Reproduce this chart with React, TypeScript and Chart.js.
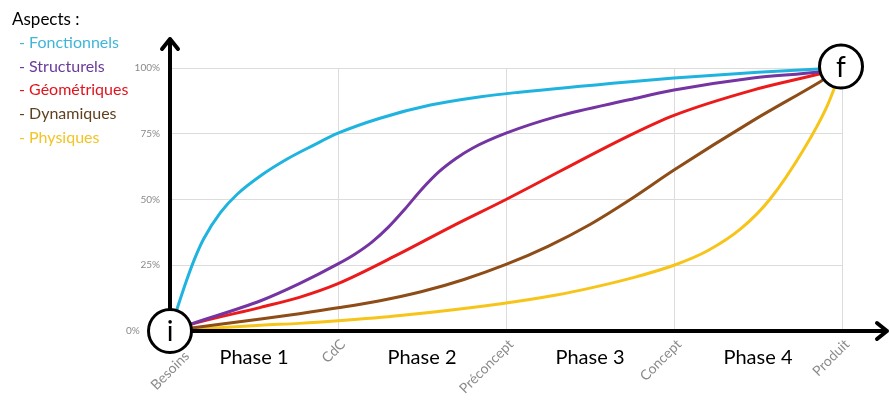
import React, { useEffect, useRef } from "react";
import { Chart, registerables } from "chart.js";

Chart.register(...registerables);

// ---- Data (x = stage index 0..4, y = percent) ----
const stages = ["Besoins", "CdC", "Préconcept", "Concept", "Produit"];
const phases = ["Phase 1", "Phase 2", "Phase 3", "Phase 4"];
const yTickLabels = ["0%", "25%", "50%", "75%", "100%"];
const legendTitle = "Aspects :";

const fonctionnels = [[0, 0], [0.05, 10], [0.1, 19.5], [0.15, 28], [0.2, 35], [0.3, 45], [0.4, 52], [0.55, 59.5], [0.7, 65.5], [0.85, 70.5], [1, 75.2], [1.25, 80.9], [1.55, 85.9], [1.85, 89.1], [2.08, 90.8], [2.74, 94.8], [3, 96.2], [3.5, 98.4], [4, 100]];
const structurels = [[0, 0], [0.14, 3], [0.54, 11.5], [0.77, 18], [1, 25.5], [1.1, 29.2], [1.2, 33.7], [1.3, 39.5], [1.4, 46.5], [1.5, 54], [1.6, 60.5], [1.7, 65.5], [1.8, 69.5], [2, 75.2], [2.3, 81.5], [2.74, 88], [3, 91.6], [3.47, 96.2], [3.87, 98.6], [4, 100]];
const geometriques = [[0, 0], [0.14, 2.8], [0.54, 9], [0.77, 12.8], [1, 18], [1.37, 29.5], [1.67, 39.5], [2, 50], [2.74, 74.5], [3, 82], [3.47, 91.6], [3.87, 97.8], [4, 100]];
const dynamiques = [[0, 0], [0.14, 1.2], [0.54, 4.6], [0.77, 6.6], [1, 8.8], [1.25, 11.5], [1.5, 15], [1.75, 19.6], [2, 25.3], [2.25, 32.2], [2.5, 40.5], [2.74, 50], [3, 61.2], [3.47, 80], [3.87, 94.8], [4, 100]];
const physiques = [[0, 0], [0.14, 0.6], [0.54, 2.2], [0.77, 2.9], [1, 3.9], [1.37, 5.9], [1.96, 10.3], [2.3, 13.7], [2.5, 16.3], [2.74, 20], [3, 25], [3.2, 30.5], [3.4, 39], [3.57, 50], [3.77, 68.8], [3.91, 85.3], [4, 100]];

const seriesNames = ["Fonctionnels", "Structurels", "Géométriques", "Dynamiques", "Physiques"];
const seriesData = [fonctionnels, structurels, geometriques, dynamiques, physiques];
const lineColors = ["#1fb3e0", "#7435a3", "#ec1b1b", "#8e4c17", "#f7c41a"];
const legendColors = ["#3fb6d8", "#6a3a9a", "#e0141e", "#5e4220", "#f2c425"];

const FONT = "Lato, 'Open Sans', sans-serif";

const overlayPlugin = {
  id: "overlay",
  afterDatasetsDraw(chart: any) {
    const ctx = chart.ctx;
    const xs = chart.scales.x;
    const ys = chart.scales.y;
    const ox = xs.getPixelForValue(0);
    const oy = ys.getPixelForValue(0);
    ctx.save();
    // axes with arrows
    ctx.strokeStyle = "#000";
    ctx.lineWidth = 4;
    ctx.lineCap = "round";
    ctx.lineJoin = "round";
    const topTip = ys.top - 29;
    const rightTip = chart.width - 3;
    ctx.beginPath();
    ctx.moveTo(ox, oy);
    ctx.lineTo(ox, topTip);
    ctx.moveTo(ox - 8, topTip + 10);
    ctx.lineTo(ox, topTip);
    ctx.lineTo(ox + 8, topTip + 10);
    ctx.moveTo(ox, oy);
    ctx.lineTo(rightTip, oy);
    ctx.moveTo(rightTip - 10, oy - 8);
    ctx.lineTo(rightTip, oy);
    ctx.lineTo(rightTip - 10, oy + 8);
    ctx.stroke();
    // circles
    const circles = [
      { x: 0, y: 0, t: "i" },
      { x: 4, y: 100, t: "f" },
    ];
    for (const c of circles) {
      const cx = xs.getPixelForValue(c.x) - (c.x === 4 ? 1 : 0);
      const cy = ys.getPixelForValue(c.y) - (c.x === 4 ? 1.5 : 0);
      ctx.beginPath();
      ctx.arc(cx, cy, 21.5, 0, Math.PI * 2);
      ctx.fillStyle = "#fff";
      ctx.fill();
      ctx.lineWidth = 3;
      ctx.strokeStyle = "#000";
      ctx.stroke();
      ctx.fillStyle = "#000";
      ctx.font = `28px ${FONT}`;
      ctx.textAlign = "center";
      ctx.textBaseline = "middle";
      ctx.fillText(c.t, cx, cy + 1);
    }
    // phase labels
    ctx.font = `20px ${FONT}`;
    ctx.fillStyle = "#000";
    ctx.textAlign = "center";
    ctx.textBaseline = "middle";
    phases.forEach((p, i) => {
      ctx.fillText(p, xs.getPixelForValue(i + 0.5), oy + 27);
    });
    // legend
    ctx.textAlign = "left";
    ctx.textBaseline = "middle";
    ctx.font = `17px ${FONT}`;
    ctx.fillStyle = "#000";
    ctx.fillText(legendTitle, 12, 20);
    ctx.font = `16px ${FONT}`;
    chart.data.datasets.forEach((ds: any, i: number) => {
      ctx.fillStyle = legendColors[i];
      ctx.fillText("- " + ds.label, 19, 43 + i * 23.6);
    });
    ctx.restore();
  },
};

export default function App() {
  const ref = useRef<HTMLCanvasElement | null>(null);
  useEffect(() => {
    if (!ref.current) return;
    const chart = new Chart(ref.current, {
      type: "line",
      data: {
        datasets: seriesNames.map((name, i) => ({
          label: name,
          data: seriesData[i].map(([x, y]) => ({ x, y })),
          borderColor: lineColors[i],
          backgroundColor: lineColors[i],
          borderWidth: 3,
          pointRadius: 0,
          cubicInterpolationMode: "monotone" as const,
          fill: false,
          clip: false as any,
        })),
      },
      options: {
        animation: false,
        responsive: true,
        maintainAspectRatio: false,
        layout: { padding: { top: 68, right: 48, left: 0, bottom: 0 } },
        plugins: { legend: { display: false }, tooltip: { enabled: false } },
        scales: {
          x: {
            type: "linear",
            min: 0,
            max: 4,
            afterFit: (s: any) => {
              s.height = 81;
            },
            afterBuildTicks: (s: any) => {
              s.ticks = stages.map((_, i) => ({ value: i }));
            },
            ticks: {
              stepSize: 1,
              minRotation: 45,
              maxRotation: 45,
              padding: 5,
              labelOffset: 5,
              color: "#8a8a8a",
              font: { family: FONT, size: 14 },
              callback: (v: any) => {
                const i = Math.round(Number(v));
                const t = stages[i] ?? "";
                // first label sits one line lower, below the start circle
                return i === 0 ? ["", t] : t;
              },
            },
            grid: { color: "#dcdcdc", lineWidth: 1, drawTicks: false },
            border: { display: false },
          },
          y: {
            min: 0,
            max: 100,
            afterFit: (s: any) => {
              s.width = 170;
            },
            afterBuildTicks: (s: any) => {
              s.ticks = yTickLabels.map((_, i) => ({ value: i * 25 }));
            },
            ticks: {
              stepSize: 25,
              padding: 10,
              color: "#8a8a8a",
              font: { family: FONT, size: 10 },
              callback: (v: any) => {
                const i = Math.round(Number(v) / 25);
                const t = yTickLabels[i] ?? "";
                return i === 0 ? t + "\u2003\u2003  " : t;
              },
            },
            grid: { color: "#dcdcdc", lineWidth: 1, drawTicks: false },
            border: { display: false },
          },
        },
      },
      plugins: [overlayPlugin],
    });
    return () => chart.destroy();
  }, []);
  return (
    <div style={{ position: "fixed", left: 0, top: 0, width: 890, height: 412, background: "#fff" }}>
      <canvas ref={ref} />
    </div>
  );
}
